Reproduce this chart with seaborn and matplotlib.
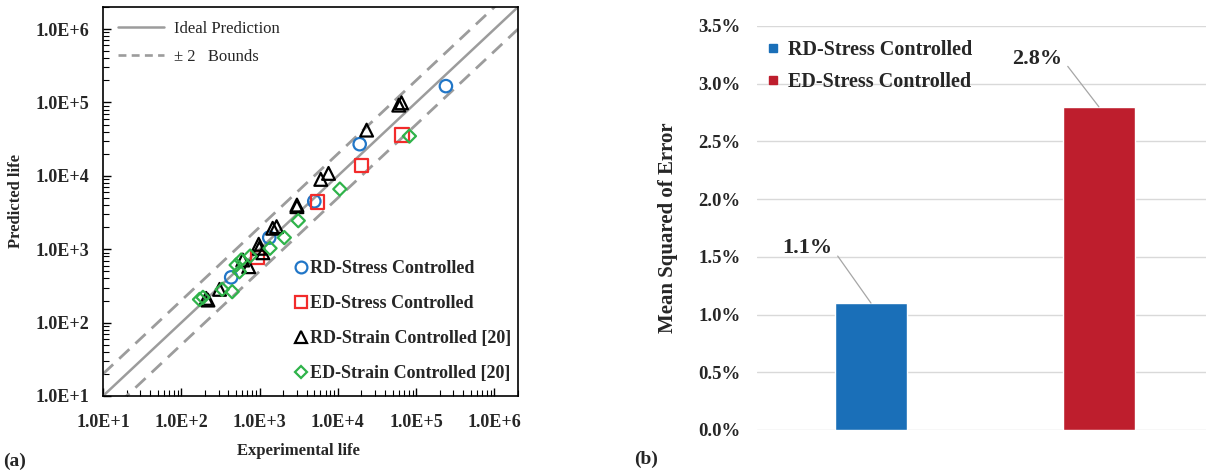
import numpy as np
import pandas as pd
import matplotlib
matplotlib.use("Agg")
import matplotlib.pyplot as plt
from matplotlib.lines import Line2D
from matplotlib.ticker import LogLocator, FuncFormatter, NullFormatter, PercentFormatter, MultipleLocator
import seaborn as sns

# ---------------- data ----------------
# (a) fatigue life, experimental vs. predicted (cycles)
rd_stress_exp = [2.4e5, 1.9e4, 5.0e3, 1.33e3, 434]
rd_stress_pred = [1.67e5, 2.7e4, 4.5e3, 1.44e3, 414]

ed_stress_exp = [6.6e4, 2.0e4, 5.5e3, 946]
ed_stress_pred = [3.6e4, 1.4e4, 4.4e3, 776]

rd_strain_exp = [6.0e4, 6.5e4, 2.33e4, 6.05e3, 7.6e3, 3.0e3, 3.0e3, 1.47e3, 1.65e3,
                 975, 993, 1.1e3, 726, 610, 308, 208, 219]
rd_strain_pred = [9.2e4, 9.9e4, 4.2e4, 8.95e3, 1.08e4, 3.8e3, 4.0e3, 1.93e3, 2.03e3,
                  1.17e3, 1.03e3, 895, 578, 713, 284, 214, 203]

ed_strain_exp = [8.2e4, 1.06e4, 3.12e3, 2.07e3, 1.36e3, 757, 582, 502, 553, 447, 333, 171, 189]
ed_strain_pred = [3.48e4, 6.6e3, 2.45e3, 1.44e3, 1.03e3, 807, 713, 609, 493, 264, 284, 207, 221]

series_names = ["RD-Stress Controlled", "ED-Stress Controlled",
                "RD-Strain Controlled [20]", "ED-Strain Controlled [20]"]
life_limits = [1e1, 2e6]
bound_factor = 2

# (b) mean squared error of the life prediction
mse_groups = ["RD-Stress Controlled", "ED-Stress Controlled"]
mse_values = [0.011, 0.028]

# ---------------- style ----------------
sns.set_theme(style="white")
plt.rcParams["font.family"] = ["Liberation Serif", "DejaVu Serif"]

fig = plt.figure(figsize=(12.06, 4.72), dpi=100)
W, H = 1206, 472

# ---------------- (a) scatter on log-log axes ----------------
ax1 = fig.add_axes([103 / W, (H - 396) / H, 415 / W, 389 / H])

marker_styles = {
    series_names[0]: dict(marker="o", color="#2176c7", s=80),
    series_names[1]: dict(marker="s", color="#f22b2b", s=90),
    series_names[2]: dict(marker="^", color="#000000", s=85),
    series_names[3]: dict(marker="D", color="#2fb34a", s=45),
}
frames = []
for name, xs, ys in zip(series_names,
                        [rd_stress_exp, ed_stress_exp, rd_strain_exp, ed_strain_exp],
                        [rd_stress_pred, ed_stress_pred, rd_strain_pred, ed_strain_pred]):
    frames.append(pd.DataFrame({"Experimental": xs, "Predicted": ys, "Series": name}))
life = pd.concat(frames, ignore_index=True)

# reference lines: ideal prediction and factor-of-two bounds
ref = np.array(life_limits)
line_color = "#9c9c9c"
ax1.plot(ref, ref, color=line_color, lw=1.8, zorder=1)
ax1.plot(ref, ref * bound_factor, color=line_color, lw=2.0, dashes=(5, 3), zorder=1)
ax1.plot(ref, ref / bound_factor, color=line_color, lw=2.0, dashes=(5, 3), zorder=1)

for name in series_names:
    st = marker_styles[name]
    sub = life[life["Series"] == name]
    sns.scatterplot(data=sub, x="Experimental", y="Predicted", ax=ax1,
                    marker=st["marker"], s=st["s"], color=st["color"],
                    facecolor="none", edgecolor=st["color"], linewidth=1.6,
                    zorder=3, legend=False)

ax1.set_xscale("log")
ax1.set_yscale("log")
ax1.set_xlim(life_limits)
ax1.set_ylim(life_limits)

sci = FuncFormatter(lambda v, _: f"1.0E+{int(round(np.log10(v)))}")
for axis in (ax1.xaxis, ax1.yaxis):
    axis.set_major_locator(LogLocator(base=10, numticks=10))
    axis.set_minor_locator(LogLocator(base=10, subs=np.arange(2, 10), numticks=20))
    axis.set_major_formatter(sci)
    axis.set_minor_formatter(NullFormatter())

ax1.tick_params(which="major", direction="in", length=6, width=1, color="black",
                labelsize=13)
ax1.tick_params(axis="x", which="major", pad=13)
ax1.tick_params(axis="y", which="major", pad=10)
ax1.tick_params(which="minor", direction="in", length=4, width=0.8, color="black")
ax1.tick_params(axis="both", which="both", bottom=True, left=True, top=False, right=False)
for lbl in ax1.get_xticklabels() + ax1.get_yticklabels():
    lbl.set_fontweight("bold")
for sp in ax1.spines.values():
    sp.set_visible(True)
    sp.set_color("black")
    sp.set_linewidth(1.2)

ax1.set_xlabel("Experimental life", fontsize=12, fontweight="bold")
ax1.set_ylabel("Predicted life", fontsize=12, fontweight="bold")
ax1.xaxis.set_label_coords(0.47, -0.12)
ax1.yaxis.set_label_coords(-0.19, 0.5)

line_handles = [Line2D([], [], color=line_color, lw=1.8),
                Line2D([], [], color=line_color, lw=1.9, dashes=(3, 2))]
leg_lines = ax1.legend(line_handles, ["Ideal Prediction", "\u00b1 2   Bounds"],
                       loc="upper left", bbox_to_anchor=(0.035, 0.965), frameon=False,
                       prop=dict(size=12), handlelength=2.8, handletextpad=0.6,
                       labelspacing=0.75, borderpad=0, borderaxespad=0)
ax1.add_artist(leg_lines)

marker_handles = [Line2D([], [], ls="none", marker=marker_styles[n]["marker"],
                         markersize=(8.5 if marker_styles[n]["marker"] != "D" else 6.5),
                         markerfacecolor="none", markeredgecolor=marker_styles[n]["color"],
                         markeredgewidth=1.6)
                  for n in series_names]
ax1.legend(marker_handles, series_names, loc="upper left", bbox_to_anchor=(0.46, 0.35),
           frameon=False, prop=dict(size=13, weight="bold"), handlelength=0.8,
           handletextpad=0.1, labelspacing=1.0, borderpad=0, borderaxespad=0)

fig.text(15 / W, 1 - 461 / H, "(a)", fontsize=14, fontweight="bold", ha="center", va="center")

# ---------------- (b) bar chart of MSE ----------------
ax2 = fig.add_axes([757 / W, (H - 430) / H, (W - 757) / W, 404 / H])
bar_colors = ["#1a6fb8", "#be1e2d"]
mse = pd.DataFrame({"Group": mse_groups, "MSE": mse_values})
sns.barplot(data=mse, x="Group", y="MSE", hue="Group", palette=bar_colors,
            width=0.315, ax=ax2, legend=False, saturation=1, zorder=3)

ax2.set_xlim(-0.5, 1.47)
ax2.set_ylim(0, 0.035)
ax2.yaxis.set_major_locator(MultipleLocator(0.005))
ax2.yaxis.set_major_formatter(PercentFormatter(xmax=1, decimals=1))
ax2.grid(axis="y", color="#d9d9d9", lw=1, zorder=0)
ax2.grid(axis="x", visible=False)
for sp in ax2.spines.values():
    sp.set_visible(False)
ax2.set_xticks([])
ax2.set_xlabel("")
ax2.tick_params(axis="y", length=0, labelsize=13.5, pad=12)
for lbl in ax2.get_yticklabels():
    lbl.set_fontweight("bold")
ax2.set_ylabel("Mean Squared of Error", fontsize=15, fontweight="bold")
ax2.yaxis.set_label_coords(-0.175, 0.5)

# value labels with leader lines
label_offsets = [(-64, 55), (-62, 48)]
for i, (v, off) in enumerate(zip(mse_values, label_offsets)):
    ax2.annotate(f"{v * 100:.1f}%", xy=(i, v), xytext=off, textcoords="offset pixels",
                 ha="center", va="center", fontsize=16, fontweight="bold",
                 arrowprops=dict(arrowstyle="-", color="#a6a6a6", lw=0.9,
                                 relpos=(1.0, 0.5), shrinkA=3, shrinkB=0))

bar_handles = [Line2D([], [], ls="none", marker="s", markersize=6,
                      markerfacecolor=c, markeredgecolor=c) for c in bar_colors]
ax2.legend(bar_handles, mse_groups, loc="upper left", bbox_to_anchor=(0.022, 0.965),
           frameon=False, prop=dict(size=14.5, weight="bold"), handlelength=0.6,
           handletextpad=0.45, labelspacing=0.6, borderpad=0, borderaxespad=0)

fig.text(646 / W, 1 - 459 / H, "(b)", fontsize=14, fontweight="bold", ha="center", va="center")

fig.savefig("out.png", dpi=100)
